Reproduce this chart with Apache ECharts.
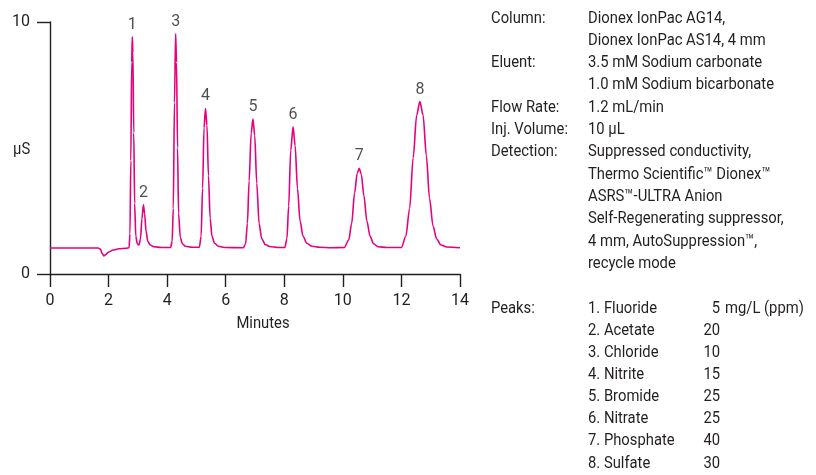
<!DOCTYPE html>
<html>
<head>
<meta charset="utf-8">
<script src="https://cdn.jsdelivr.net/npm/echarts@6/dist/echarts.min.js"></script>
<style>html,body{margin:0;padding:0;background:#fff;}#c{width:816px;height:475px;}</style>
</head>
<body>
<div id="c"></div>
<script>
// ---- data ----
const minutes = [0, 1.65, 1.72, 1.78, 1.84, 1.9, 2.0, 2.15, 2.35, 2.6,
  2.70, 2.73, 2.76, 2.79, 2.81, 2.83, 2.86, 2.89, 2.93, 2.98,
  3.04, 3.09, 3.14, 3.19, 3.23, 3.28, 3.34, 3.42, 3.55, 3.8,
  4.12, 4.17, 4.21, 4.25, 4.29, 4.32, 4.355, 4.39, 4.45, 4.52, 4.62, 4.85,
  5.1, 5.16, 5.21, 5.26, 5.31, 5.36, 5.41, 5.47, 5.53, 5.62, 5.75, 6.0,
  6.6, 6.68, 6.74, 6.8, 6.87, 6.93, 6.99, 7.06, 7.14, 7.23, 7.35, 7.5, 7.8,
  8.02, 8.09, 8.15, 8.22, 8.30, 8.37, 8.45, 8.54, 8.64, 8.77, 8.95, 9.2, 9.6,
  10.05, 10.2, 10.3, 10.4, 10.49, 10.56, 10.63, 10.72, 10.82, 10.93, 11.05, 11.2, 11.5,
  12.0, 12.15, 12.28, 12.4, 12.52, 12.63, 12.74, 12.85, 12.96, 13.08, 13.2, 13.35, 13.55, 14.0];
const microSiemens = [1.03, 1.03, 0.99, 0.82, 0.72, 0.77, 0.87, 0.95, 1.0, 1.02,
  1.04, 1.6, 4.5, 8.4, 9.41, 8.8, 5.6, 2.8, 1.5, 1.2,
  1.15, 1.4, 2.2, 2.75, 2.4, 1.7, 1.3, 1.15, 1.08, 1.05,
  1.05, 1.3, 2.6, 6.8, 9.53, 8.4, 5.0, 2.4, 1.45, 1.2, 1.1, 1.06,
  1.06, 1.5, 3.4, 5.8, 6.57, 5.9, 3.9, 2.2, 1.5, 1.22, 1.1, 1.05,
  1.04, 1.2, 2.0, 3.7, 5.6, 6.15, 5.5, 3.6, 2.0, 1.4, 1.17, 1.09, 1.05,
  1.05, 1.4, 2.7, 4.9, 5.84, 5.1, 3.4, 2.1, 1.5, 1.22, 1.1, 1.06, 1.04,
  1.05, 1.35, 2.0, 3.2, 4.0, 4.19, 3.95, 3.1, 2.1, 1.5, 1.2, 1.08, 1.05,
  1.05, 1.5, 2.6, 4.6, 6.3, 6.84, 6.3, 4.7, 3.0, 1.9, 1.4, 1.15, 1.07, 1.04];

const peakNumbers = ['1', '2', '3', '4', '5', '6', '7', '8'];
const peakTimes = [2.81, 3.19, 4.29, 5.31, 6.93, 8.30, 10.56, 12.63];
const peakHeights = [9.41, 2.75, 9.53, 6.57, 6.15, 5.84, 4.19, 6.84];

const xTickLabels = ['0', '2', '4', '6', '8', '10', '12', '14'];
const yTickLabels = ['0', '10'];
const xAxisTitle = 'Minutes';
const yAxisTitle = 'μS';

const conditionNames = ['Column:', 'Eluent:', 'Flow Rate:', 'Inj. Volume:', 'Detection:'];
const conditionValues = [
  ['Dionex IonPac AG14,', 'Dionex IonPac AS14, 4 mm'],
  ['3.5 mM Sodium carbonate', '1.0 mM Sodium bicarbonate'],
  ['1.2 mL/min'],
  ['10 µL'],
  ['Suppressed conductivity,', 'Thermo Scientific™ Dionex™', 'ASRS™-ULTRA Anion',
   'Self-Regenerating suppressor,', '4 mm, AutoSuppression™,', 'recycle mode']
];
const peaksHeading = 'Peaks:';
const peakAnalytes = ['Fluoride', 'Acetate', 'Chloride', 'Nitrite', 'Bromide', 'Nitrate', 'Phosphate', 'Sulfate'];
const peakConcentrations = ['5', '20', '10', '15', '25', '25', '40', '30'];
const concentrationUnit = 'mg/L (ppm)';

// ---- rendering ----
const TEXT = '#231f20';
const FONT_FAMILY = '"Liberation Sans Narrow", "Roboto", sans-serif';
const FONT = '17px ' + FONT_FAMILY;
const LINE = '#e5007e';
const NARROW = 0.87;

const chart = echarts.init(document.getElementById('c'), null, {renderer: 'canvas'});

const graphics = [];
function txt(x, y, text, align) {
  graphics.push({type: 'text', x: x, y: y, scaleX: NARROW, silent: true,
    style: {x: 0, y: 0, text: text, font: FONT, fill: TEXT, textAlign: align || 'left', textVerticalAlign: 'middle'}});
}
let row = 0;
const rowH = 22.3;
conditionNames.forEach((n, i) => {
  txt(491, 18.3 + row * rowH, n);
  conditionValues[i].forEach((v, j) => { txt(588, 18.3 + (row + j) * rowH, v); });
  row += conditionValues[i].length;
});
txt(491, 308.3, peaksHeading);
peakAnalytes.forEach((n, i) => {
  const y = 308.3 + i * 22.15;
  txt(588, y, (i + 1) + '. ' + n);
  txt(720, y, peakConcentrations[i], 'right');
  if (i === 0) txt(725, y, concentrationUnit);
});
txt(13, 150, yAxisTitle);
txt(263, 324, xAxisTitle, 'center');

const axisLineStyle = {color: TEXT, width: 1.4};

chart.setOption({
  animation: false,
  backgroundColor: '#fff',
  grid: {left: 50, right: 356, top: 22, bottom: 201, containLabel: false},
  xAxis: {
    type: 'value', min: 0, max: 14, interval: 2,
    axisLine: {show: true, onZero: false, lineStyle: axisLineStyle},
    axisTick: {show: true, length: 13, lineStyle: axisLineStyle},
    axisLabel: {color: TEXT, fontSize: 16, fontFamily: FONT_FAMILY, margin: 19,
      formatter: (v) => xTickLabels[Math.round(v / 2)]},
    splitLine: {show: false}
  },
  yAxis: {
    type: 'value', min: 0, max: 10, interval: 10,
    axisLine: {show: true, lineStyle: axisLineStyle},
    axisTick: {show: true, length: 13, lineStyle: axisLineStyle},
    axisLabel: {color: TEXT, fontSize: 16, fontFamily: FONT_FAMILY, margin: 20,
      formatter: (v) => yTickLabels[Math.round(v / 10)]},
    splitLine: {show: false}
  },
  series: [
    {
      type: 'line',
      data: minutes.map((t, i) => [t, microSiemens[i]]),
      showSymbol: false,
      smooth: 0.3,
      smoothMonotone: 'x',
      lineStyle: {color: LINE, width: 1.6},
      silent: true
    },
    {
      type: 'scatter',
      data: peakTimes.map((t, i) => [t, peakHeights[i], peakNumbers[i]]),
      symbolSize: 0,
      silent: true,
      label: {show: true, position: 'top', distance: 4, color: TEXT, fontSize: 16, fontFamily: FONT_FAMILY,
        formatter: (p) => p.data[2]}
    }
  ],
  graphic: graphics
});
</script>
</body>
</html>
